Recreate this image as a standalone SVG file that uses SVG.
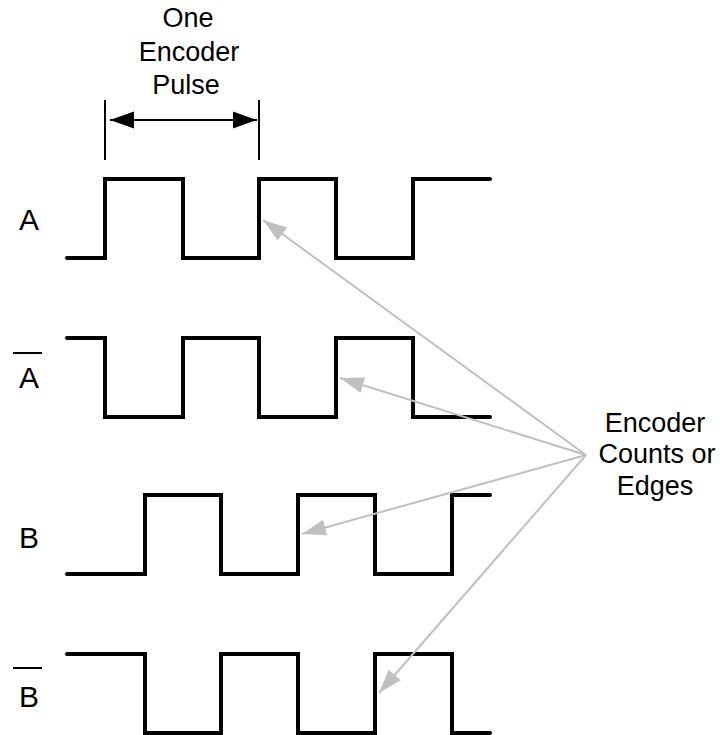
<svg xmlns="http://www.w3.org/2000/svg" width="720" height="735" viewBox="0 0 720 735">
  <style>
    .wave { fill: none; stroke: #000; stroke-width: 4; stroke-linejoin: miter; stroke-linecap: round; }
    .tick { stroke: #000; stroke-width: 2; }
    .gray { stroke: #c0c0c0; stroke-width: 2; fill: none; }
    .lbl { font-family: "Liberation Sans", Arial, sans-serif; font-size: 27px; fill: #000; text-anchor: middle; }
    .sig { font-family: "Liberation Sans", Arial, sans-serif; font-size: 30px; fill: #000; text-anchor: middle; }
  </style>
  <defs>
    <marker id="gh" markerUnits="userSpaceOnUse" viewBox="0 -9 26 18" refX="24" refY="0" markerWidth="26" markerHeight="18" orient="auto">
      <path d="M0,-8 L24,0 L0,8 z" fill="#c0c0c0"/>
    </marker>
    <marker id="bh" markerUnits="userSpaceOnUse" viewBox="0 -10 26 20" refX="24" refY="0" markerWidth="26" markerHeight="20" orient="auto-start-reverse">
      <path d="M0,-8.5 L24,0 L0,8.5 z" fill="#000"/>
    </marker>
  </defs>
  <rect width="720" height="735" fill="#fff"/>

  <g id="pulse-label">
    <text class="lbl" x="188" y="27">One</text>
    <text class="lbl" x="189" y="61">Encoder</text>
    <text class="lbl" x="186" y="94">Pulse</text>
  </g>

  <g id="counts-label">
    <text class="lbl" x="655" y="432">Encoder</text>
    <text class="lbl" x="657" y="463">Counts or</text>
    <text class="lbl" x="655" y="495">Edges</text>
  </g>

  <g id="signal-A">
    <text class="sig" x="29" y="230">A</text>
    <path class="wave" d="M67,258 H105 V179 H183 V258 H259 V179 H336 V258 H413 V179 H490"/>
  </g>
  <g id="signal-Abar">
    <line class="tick" x1="13" y1="353" x2="42" y2="353"/>
    <text class="sig" x="29" y="388">A</text>
    <path class="wave" d="M67,338 H105 V417 H183 V338 H259 V417 H336 V338 H413 V417 H490"/>
  </g>
  <g id="signal-B">
    <text class="sig" x="29" y="548">B</text>
    <path class="wave" d="M67,574 H145 V495 H221 V574 H298 V495 H375 V574 H452 V495 H490"/>
  </g>
  <g id="signal-Bbar">
    <line class="tick" x1="13" y1="668" x2="42" y2="668"/>
    <text class="sig" x="29" y="707">B</text>
    <path class="wave" d="M67,654 H145 V733 H221 V654 H298 V733 H375 V654 H452 V733 H490"/>
  </g>

  <g id="connectors">
    <line class="tick" x1="105" y1="100" x2="105" y2="160"/>
    <line class="tick" x1="259" y1="100" x2="259" y2="160"/>
    <line x1="110" y1="120" x2="257" y2="120" stroke="#000" stroke-width="2" marker-start="url(#bh)" marker-end="url(#bh)"/>
    <line class="gray" x1="586" y1="455" x2="263" y2="220" marker-end="url(#gh)"/>
    <line class="gray" x1="586" y1="455" x2="340" y2="378" marker-end="url(#gh)"/>
    <line class="gray" x1="586" y1="455" x2="302" y2="534" marker-end="url(#gh)"/>
    <line class="gray" x1="586" y1="455" x2="379" y2="693" marker-end="url(#gh)"/>
  </g>
</svg>
